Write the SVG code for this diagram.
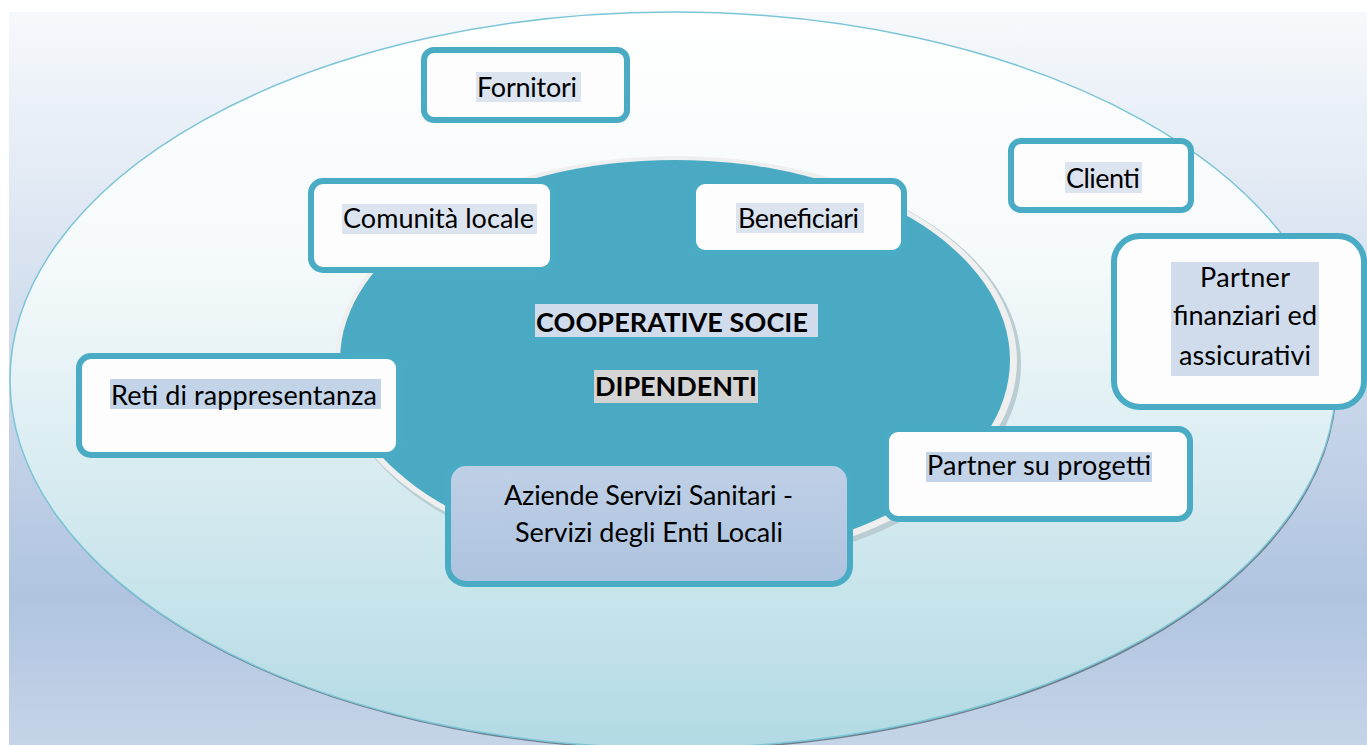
<svg xmlns="http://www.w3.org/2000/svg" width="1367" height="745" viewBox="0 0 1367 745">
<defs>
<linearGradient id="bg" x1="0" y1="0" x2="0" y2="1">
<stop offset="0" stop-color="#f6f9fc"/>
<stop offset="0.8" stop-color="#b0c4e0"/>
<stop offset="1" stop-color="#c5d4e8"/>
</linearGradient>
<linearGradient id="outer" x1="0" y1="0" x2="0" y2="1">
<stop offset="0" stop-color="#ffffff"/>
<stop offset="0.35" stop-color="#f4f9fa"/>
<stop offset="1" stop-color="#b2dae4"/>
</linearGradient>
<linearGradient id="az" x1="0" y1="0" x2="0" y2="1">
<stop offset="0" stop-color="#bfd0e6"/>
<stop offset="1" stop-color="#aec3df"/>
</linearGradient>
<style>
.box{fill:#fdfdfe;stroke:#4aabc5;stroke-width:6}
.t{font-family:Lato,"Open Sans","Liberation Sans",sans-serif;font-size:27px;fill:#000;text-anchor:middle}
.b{font-weight:bold}
.hl{fill:#dce4f0}
.hl2{fill:#c4d4e8}
</style>
</defs>
<rect x="0" y="0" width="1367" height="745" fill="#ffffff"/>
<rect x="9" y="12" width="1358" height="733" fill="url(#bg)"/>
<g id="outer-ring">
<ellipse cx="674" cy="382" rx="663" ry="368" fill="#6f7f8c"/>
<ellipse cx="673" cy="380" rx="663" ry="368" fill="url(#outer)" stroke="#7cc5d6" stroke-width="1.5"/>
</g>
<g id="inner-circle">
<ellipse cx="679" cy="364" rx="342" ry="207" fill="#b9cdd2"/>
<ellipse cx="676" cy="361" rx="341" ry="205" fill="#efefef"/>
<ellipse cx="675" cy="360" rx="335" ry="200" fill="#4aaac4"/>
</g>
<g id="center-title">
<rect x="535" y="304" width="283" height="33" fill="#d0dcec"/>
<text class="t b" x="672" y="332" textLength="272">COOPERATIVE SOCIE</text>
<rect x="594" y="370" width="164" height="33" fill="#d4d4d4"/>
<text class="t b" x="676" y="396" textLength="162">DIPENDENTI</text>
</g>
<g id="fornitori">
<rect class="box" x="424" y="50" width="203" height="70" rx="10"/>
<rect class="hl" x="476" y="72" width="105" height="30"/>
<text class="t" x="527" y="97" textLength="100">Fornitori</text>
</g>
<g id="clienti">
<rect class="box" x="1011" y="141" width="180" height="69" rx="10"/>
<rect class="hl" x="1065" y="162" width="77" height="31"/>
<text class="t" x="1103" y="188" textLength="74">Clienti</text>
</g>
<g id="comunita">
<rect class="box" x="311" y="181" width="242" height="89" rx="12"/>
<rect class="hl" x="342" y="204" width="195" height="30"/>
<text class="t" x="438.5" y="228" textLength="191">Comunità locale</text>
</g>
<g id="beneficiari">
<rect class="box" x="693" y="181" width="211" height="72" rx="12"/>
<rect class="hl" x="736" y="203" width="128" height="30"/>
<text class="t" x="798.5" y="228" textLength="121">Beneficiari</text>
</g>
<g id="partner-finanziari">
<rect class="box" x="1114" y="236" width="250" height="171" rx="26"/>
<rect fill="#d0dcec" x="1171" y="262" width="148" height="114"/>
<text class="t" x="1245" y="287" textLength="90">Partner</text>
<text class="t" x="1245" y="325" textLength="144">finanziari ed</text>
<text class="t" x="1245" y="365" textLength="132">assicurativi</text>
</g>
<g id="reti">
<rect class="box" x="79" y="356" width="320" height="99" rx="12"/>
<rect class="hl2" x="110" y="379" width="271" height="30"/>
<text class="t" x="244" y="405" textLength="266">Reti di rappresentanza</text>
</g>
<g id="partner-progetti">
<rect class="box" x="886" y="429" width="304" height="90" rx="12"/>
<rect class="hl2" x="926" y="452" width="226" height="30"/>
<text class="t" x="1039" y="475" textLength="224">Partner su progetti</text>
</g>
<g id="aziende">
<rect x="448" y="463" width="402" height="121" rx="18" fill="url(#az)" stroke="#4aabc5" stroke-width="6"/>
<text class="t" x="648.5" y="505" textLength="289">Aziende Servizi Sanitari -</text>
<text class="t" x="649" y="542" textLength="268">Servizi degli Enti Locali</text>
</g>
</svg>
